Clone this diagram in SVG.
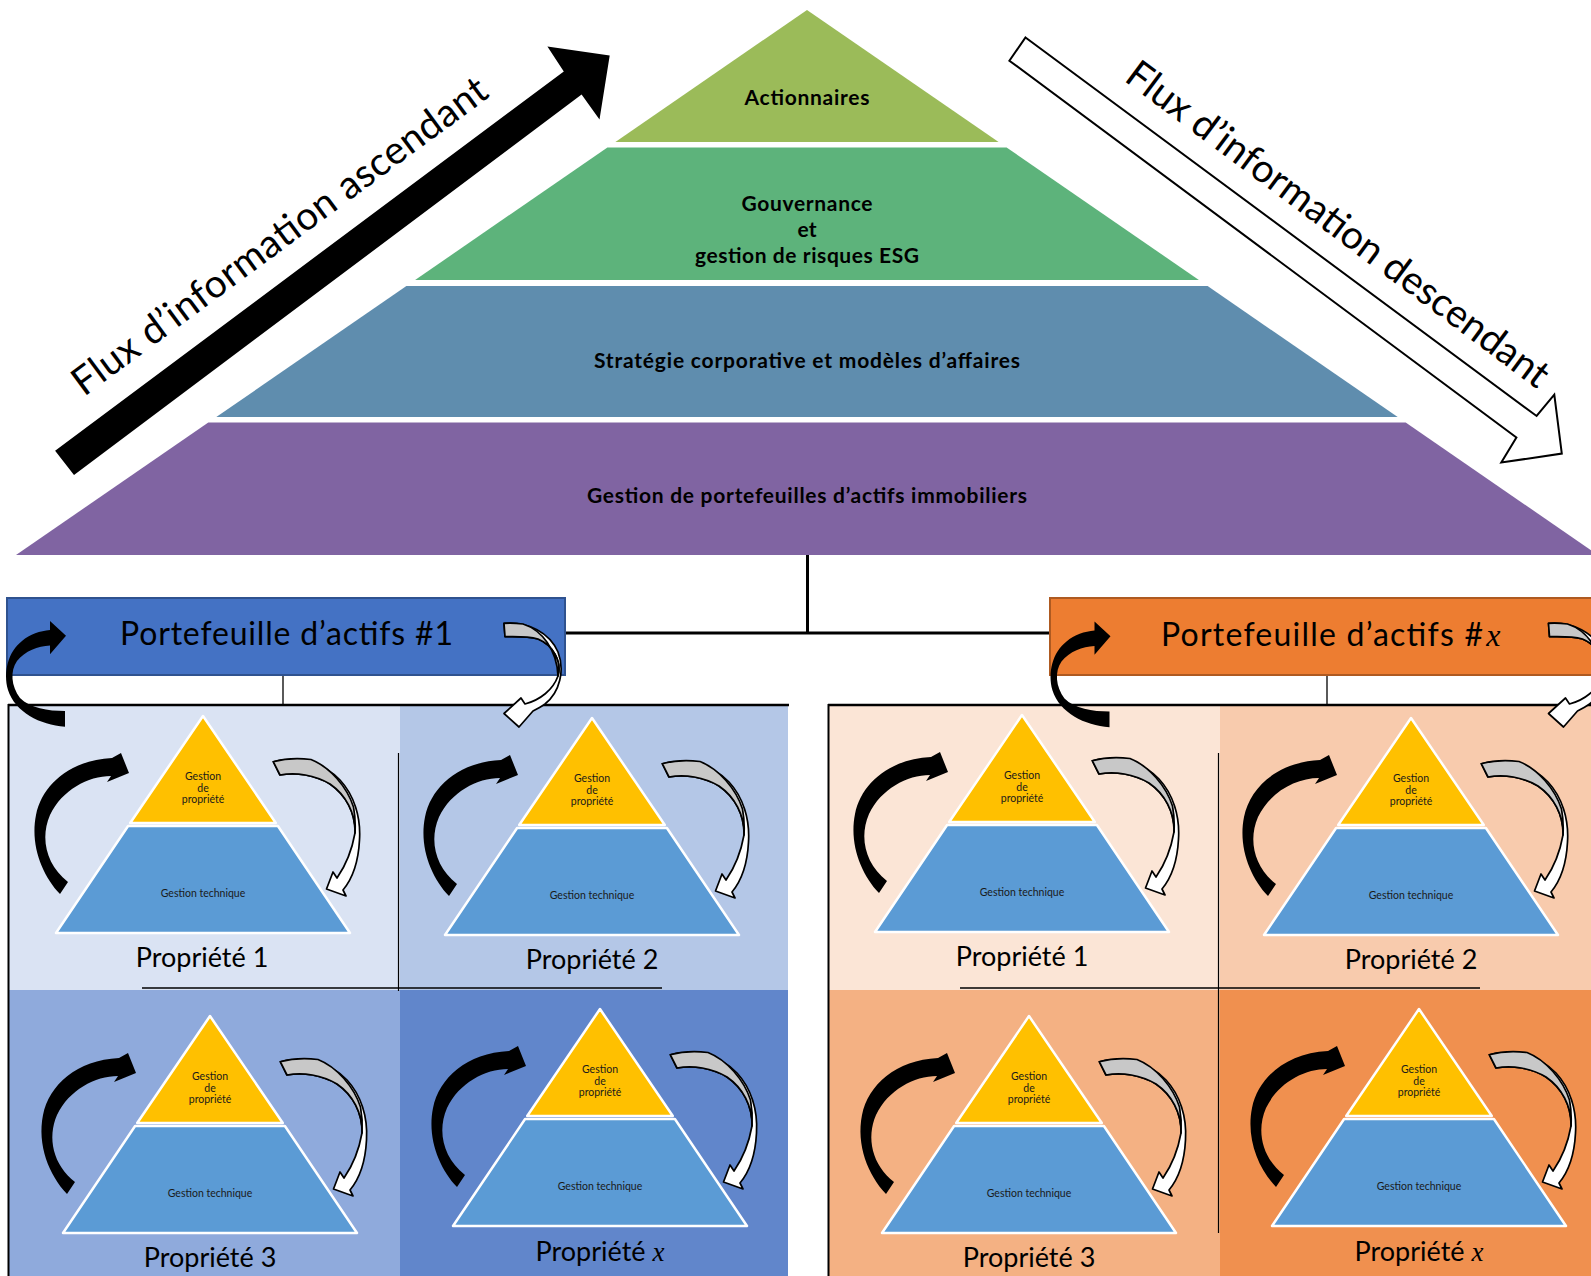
<svg xmlns="http://www.w3.org/2000/svg" xmlns:xlink="http://www.w3.org/1999/xlink" width="1591" height="1276" viewBox="0 0 1591 1276">
<style>
  .f { font-family: Lato, 'Liberation Sans', sans-serif; }
  .tier { font-weight: 700; font-size: 21px; text-anchor: middle; fill: #000; }
  .small { font-size: 10.5px; text-anchor: middle; fill: #1a1a1a; }
  .prop { font-size: 27px; text-anchor: middle; fill: #000; }
  .boxt { font-size: 32px; fill: #000; }
  .flux { font-size: 39px; fill: #000; }
  .mx { font-family: 'Liberation Serif', serif; font-style: italic; }
  .yel { fill: #FFC000; stroke: #fff; stroke-width: 2.5; stroke-linejoin: round; }
  .blu { fill: #5B9BD5; stroke: #fff; stroke-width: 2.5; stroke-linejoin: round; }
  .blk { fill: #000; }
  .wht { fill: #fff; stroke: #000; stroke-width: 1.7; stroke-linejoin: round; }
  .gry { fill: #C8C8C8; stroke: #000; stroke-width: 1.7; stroke-linejoin: round; }
  .ln { stroke: #000; fill: none; }
</style>
<defs>
  <g id="miniPyr">
    <polygon class="yel" points="0,1 72.8,108 -72.8,108"/>
    <polygon class="blu" points="-74.9,111 74.9,111 147,218 -147,218"/>
  </g>
  <path id="miniBlk" class="blk" d="M-143,179 C-161,160 -173,130 -167,100 C-161,70 -133,45 -91,43 L-82,38 L-74,58 L-96,67 L-92,61 C-115,61 -141,75 -153,100 C-163,123 -157,150 -135,167 Z"/>
  <g id="miniWht">
    <path class="wht" d="M70.3,46.7 C88,42 118,45 137,65 C151,80 158,102 156.5,125 C155.5,145 150,163 140,175 L143,181 L123.5,174 L130,157 L134,163 C143,150 149,135 152,118 C152.5,98 143,80 127,69 C112,60 93,57 77,60 Z"/>
    <path class="gry" d="M70.3,46.7 C82,43.5 96,43 108,44.5 C127,52 144,72 150.5,92 C152,100 152.5,110 152,118 C152.5,98 143,80 127,69 C112,60 93,57 77,60 Z"/>
  </g>
  <path id="boxBlk" class="blk" d="M65,726.7 C40,725 15,712 8,690 C3,672 8,652 22,641 C30,634 40,631 50,630 L50,621 L66,635.7 L50,654.3 L50,645.5 C38,646 25,651 17,661 C10,671 11,686 20,698 C30,708 48,711 65,711 Z"/>
  <g id="boxWht">
    <path class="wht" d="M504,623.3 C528,621 550,633 558,652 C565,670 560,692 545,704 C541,707 537,709 533,711 L519,727 L504,713.5 L521,698 L525,704 C540,700 553,690 558,676 C562,662 553,645 538,639 C527,636 514,636.5 505,636.7 Z"/>
    <path class="gry" d="M504,623.3 C510,622.8 517,623.2 523,624 C542,630 557,650 558,676 C562,662 553,645 538,639 C527,636 514,636.5 505,636.7 Z"/>
  </g>
</defs>

<rect width="1591" height="1276" fill="#fff"/>

<!-- Top pyramid -->
<g id="tier-actionnaires">
  <polygon points="807,10 998.6,142 615.4,142" fill="#9BBB59"/>
  <text class="f tier" x="807" y="105" textLength="125">Actionnaires</text>
</g>
<g id="tier-gouvernance">
  <polygon points="607.4,147.5 1006.6,147.5 1198.9,280 415.1,280" fill="#5DB37B"/>
  <text class="f tier" x="807" y="211" textLength="131">Gouvernance</text>
  <text class="f tier" x="807" y="237">et</text>
  <text class="f tier" x="807" y="263" textLength="224">gestion de risques ESG</text>
</g>
<g id="tier-strategie">
  <polygon points="406.4,286 1207.6,286 1397.7,417 216.3,417" fill="#5F8DAE"/>
  <text class="f tier" x="807" y="368" textLength="426">Stratégie corporative et modèles d’affaires</text>
</g>
<g id="tier-gestion">
  <polygon points="208.3,422.5 1405.7,422.5 1598,555 16,555" fill="#8064A2"/>
  <text class="f tier" x="807" y="503" textLength="440">Gestion de portefeuilles d’actifs immobiliers</text>
</g>

<!-- Flux arrows -->
<g id="flux-ascendant">
  <polygon class="blk" points="55.1,450.7 563.8,71.4 547.4,46.4 609.7,55.4 599.5,119.6 581.6,94.6 74,475"/>
  <text class="f flux" transform="translate(84,397) rotate(-36.5)" x="0" y="0" textLength="506">Flux d’information ascendant</text>
</g>
<g id="flux-descendant">
  <polygon points="1025.5,37.5 1536.6,416 1554.3,394.6 1561.8,453.6 1501.3,462.5 1516.4,437.5 1009.4,60.7" fill="#fff" stroke="#000" stroke-width="2" stroke-linejoin="miter"/>
  <text class="f flux" transform="translate(1123,80) rotate(36.75)" x="0" y="0" textLength="517">Flux d’information descendant</text>
</g>

<!-- Panels backgrounds -->
<g id="panel-1">
  <rect x="8" y="705" width="392" height="285" fill="#DAE3F3"/>
  <rect x="400" y="705" width="388" height="285" fill="#B4C7E7"/>
  <rect x="8" y="990" width="392" height="286" fill="#8FAADC"/>
  <rect x="400" y="990" width="388" height="286" fill="#6186CB"/>
  <line class="ln" x1="8" y1="705" x2="789" y2="705" stroke-width="2.5"/>
  <line class="ln" x1="8.5" y1="704" x2="8.5" y2="1276" stroke-width="2"/>
  <line class="ln" x1="398.5" y1="753" x2="398.5" y2="991" stroke-width="1.2"/>
  <line class="ln" x1="142" y1="988" x2="662" y2="988" stroke-width="1.5"/>
</g>
<g id="panel-x">
  <rect x="828" y="705" width="392" height="285" fill="#FBE5D6"/>
  <rect x="1220" y="705" width="371" height="285" fill="#F8CBAD"/>
  <rect x="828" y="990" width="392" height="286" fill="#F4B183"/>
  <rect x="1220" y="990" width="371" height="286" fill="#F0904F"/>
  <line class="ln" x1="828" y1="705" x2="1591" y2="705" stroke-width="2.5"/>
  <line class="ln" x1="828.5" y1="704" x2="828.5" y2="1276" stroke-width="2"/>
  <line class="ln" x1="1218.5" y1="753" x2="1218.5" y2="1233" stroke-width="1.2"/>
  <line class="ln" x1="960" y1="988" x2="1480" y2="988" stroke-width="1.5"/>
</g>

<!-- Connectors -->
<g id="connectors">
  <line class="ln" x1="807.5" y1="555" x2="807.5" y2="634" stroke-width="3"/>
  <line class="ln" x1="564" y1="633" x2="1051" y2="633" stroke-width="3"/>
  <line class="ln" x1="283" y1="675" x2="283" y2="705" stroke-width="1.3"/>
  <line class="ln" x1="1327" y1="675" x2="1327" y2="705" stroke-width="1.3"/>
</g>

<!-- Portfolio boxes -->
<g id="portefeuille-1">
  <rect x="7" y="598" width="558" height="77" fill="#4472C4" stroke="#2F528F" stroke-width="2"/>
  <text class="f boxt" x="120" y="645" textLength="333">Portefeuille d’actifs #1</text>
  <use href="#boxBlk"/>
  <use href="#boxWht"/>
</g>
<g id="portefeuille-x">
  <rect x="1050" y="598" width="560" height="77" fill="#ED7D31" stroke="#AE5A21" stroke-width="2"/>
  <text class="f boxt" x="1161" y="646"><tspan textLength="322">Portefeuille d’actifs #</tspan><tspan class="mx" dx="2">x</tspan></text>
  <use href="#boxBlk" transform="translate(1044.5,0.5)"/>
  <use href="#boxWht" transform="translate(1044.5,0)"/>
</g>

<!-- Properties, portfolio 1 -->
<g id="prop-1-1" transform="translate(203,715)">
  <use href="#miniPyr"/><use href="#miniBlk"/><use href="#miniWht"/>
  <text class="f small" x="0" y="64.5">Gestion</text>
  <text class="f small" x="0" y="76.5">de</text>
  <text class="f small" x="0" y="87.5">propriété</text>
  <text class="f small" x="0" y="181.5">Gestion technique</text>
  <text class="f prop" x="-1" y="252">Propriété 1</text>
</g>
<g id="prop-1-2" transform="translate(592,717)">
  <use href="#miniPyr"/><use href="#miniBlk"/><use href="#miniWht"/>
  <text class="f small" x="0" y="64.5">Gestion</text>
  <text class="f small" x="0" y="76.5">de</text>
  <text class="f small" x="0" y="87.5">propriété</text>
  <text class="f small" x="0" y="181.5">Gestion technique</text>
  <text class="f prop" x="0" y="252">Propriété 2</text>
</g>
<g id="prop-1-3" transform="translate(210,1015)">
  <use href="#miniPyr"/><use href="#miniBlk"/><use href="#miniWht"/>
  <text class="f small" x="0" y="64.5">Gestion</text>
  <text class="f small" x="0" y="76.5">de</text>
  <text class="f small" x="0" y="87.5">propriété</text>
  <text class="f small" x="0" y="181.5">Gestion technique</text>
  <text class="f prop" x="0" y="252">Propriété 3</text>
</g>
<g id="prop-1-x" transform="translate(600,1008)">
  <use href="#miniPyr"/><use href="#miniBlk"/><use href="#miniWht"/>
  <text class="f small" x="0" y="64.5">Gestion</text>
  <text class="f small" x="0" y="76.5">de</text>
  <text class="f small" x="0" y="87.5">propriété</text>
  <text class="f small" x="0" y="181.5">Gestion technique</text>
  <text class="f prop" x="0" y="253">Propriété <tspan class="mx">x</tspan></text>
</g>

<!-- Properties, portfolio x -->
<g id="prop-x-1" transform="translate(1022,714)">
  <use href="#miniPyr"/><use href="#miniBlk"/><use href="#miniWht"/>
  <text class="f small" x="0" y="64.5">Gestion</text>
  <text class="f small" x="0" y="76.5">de</text>
  <text class="f small" x="0" y="87.5">propriété</text>
  <text class="f small" x="0" y="181.5">Gestion technique</text>
  <text class="f prop" x="0" y="252">Propriété 1</text>
</g>
<g id="prop-x-2" transform="translate(1411,717)">
  <use href="#miniPyr"/><use href="#miniBlk"/><use href="#miniWht"/>
  <text class="f small" x="0" y="64.5">Gestion</text>
  <text class="f small" x="0" y="76.5">de</text>
  <text class="f small" x="0" y="87.5">propriété</text>
  <text class="f small" x="0" y="181.5">Gestion technique</text>
  <text class="f prop" x="0" y="252">Propriété 2</text>
</g>
<g id="prop-x-3" transform="translate(1029,1015)">
  <use href="#miniPyr"/><use href="#miniBlk"/><use href="#miniWht"/>
  <text class="f small" x="0" y="64.5">Gestion</text>
  <text class="f small" x="0" y="76.5">de</text>
  <text class="f small" x="0" y="87.5">propriété</text>
  <text class="f small" x="0" y="181.5">Gestion technique</text>
  <text class="f prop" x="0" y="252">Propriété 3</text>
</g>
<g id="prop-x-x" transform="translate(1419,1008)">
  <use href="#miniPyr"/><use href="#miniBlk"/><use href="#miniWht"/>
  <text class="f small" x="0" y="64.5">Gestion</text>
  <text class="f small" x="0" y="76.5">de</text>
  <text class="f small" x="0" y="87.5">propriété</text>
  <text class="f small" x="0" y="181.5">Gestion technique</text>
  <text class="f prop" x="0" y="253">Propriété <tspan class="mx">x</tspan></text>
</g>
</svg>
